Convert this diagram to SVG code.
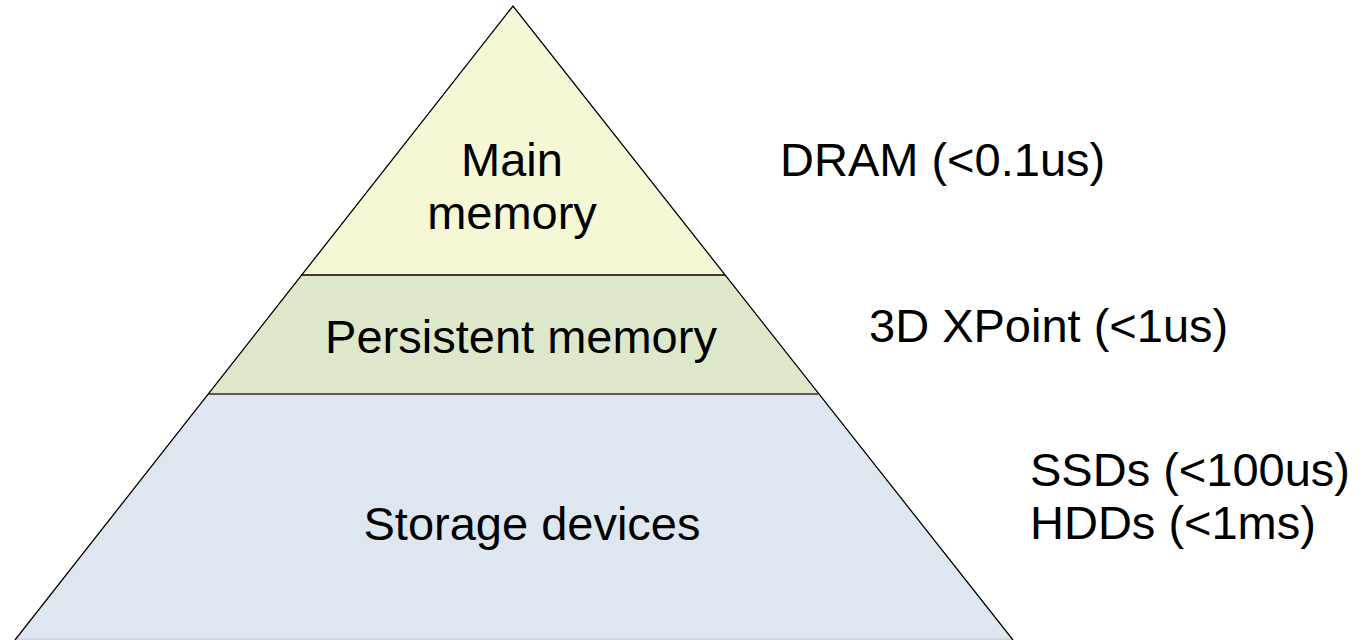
<svg xmlns="http://www.w3.org/2000/svg" width="1369" height="640" viewBox="0 0 1369 640">
<style>
text { font-family: "Liberation Sans", Arial, sans-serif; font-size: 47px; fill: #000; }
.c { text-anchor: middle; }
.edge { stroke: #000; stroke-width: 1.3; fill: none; }
</style>
<rect width="1369" height="640" fill="#fff"/>
<g id="storage">
<polygon points="208,394 818,394 1013,640 15,640" fill="#dee6ef"/>
<text class="c" x="532" y="540">Storage devices</text>
</g>
<g id="persistent">
<polygon points="301,275 725,275 818,394 208,394" fill="#dde8cb"/>
<text class="c" x="521" y="353">Persistent memory</text>
</g>
<g id="main">
<polygon points="513,6 725,275 301,275" fill="#f6f7d4"/>
<text class="c" x="512" y="176">Main</text>
<text class="c" x="512" y="229">memory</text>
</g>
<g id="connectors">
<line x1="301" y1="275" x2="725" y2="275" stroke="#000" stroke-width="1.3"/>
<line x1="208" y1="394" x2="818" y2="394" stroke="#5a5a5a" stroke-width="2"/>
<line x1="15" y1="639" x2="1013" y2="639" stroke="#cfd6df" stroke-width="2"/>
<polyline class="edge" points="15,640 513,6 1013,640"/>
</g>
<g id="labels">
<text x="780" y="176">DRAM (&lt;0.1us)</text>
<text x="869" y="342">3D XPoint (&lt;1us)</text>
<text x="1030" y="486">SSDs (&lt;100us)</text>
<text x="1030" y="539">HDDs (&lt;1ms)</text>
</g>
</svg>
